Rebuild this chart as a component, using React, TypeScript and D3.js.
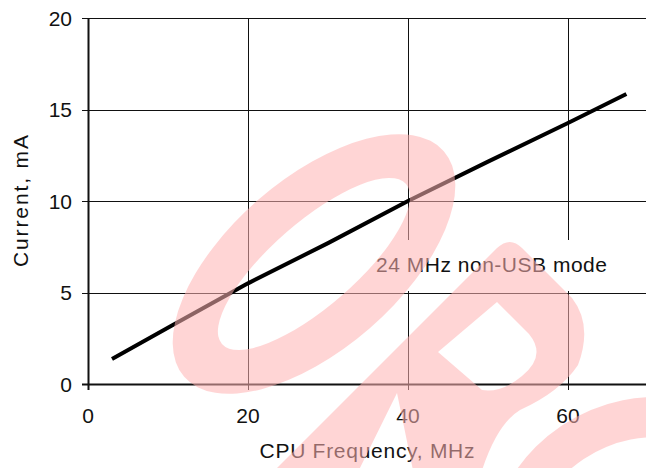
import React from "react";
import * as d3 from "d3";

const freqMHz = [3, 10.6, 20, 30, 40, 50, 60, 67.3];
const currentMA = [1.37, 3.22, 5.5, 7.7, 10.0, 12.15, 14.26, 15.85];
const xTicks = [0, 20, 40, 60];
const yTicks = [0, 5, 10, 15, 20];
const xTitle = "CPU Frequency, MHz";
const yTitle = "Current, mA";
const noteText = "24 MHz non-USB mode";

const W = 646;
const H = 468;
const FONT = "'Liberation Sans', Arial, sans-serif";

export default function App() {
  const x = d3.scaleLinear().domain([0, 70]).range([88, 648]);
  const y = d3.scaleLinear().domain([0, 20]).range([384, 18]);
  const pts: [number, number][] = freqMHz.map((f, i) => [f, currentMA[i]]);
  const line = d3
    .line<[number, number]>()
    .x((d) => x(d[0]))
    .y((d) => y(d[1]));

  const ellipsePath = (cx: number, cy: number, a: number, b: number) =>
    `M${cx - a},${cy} A${a},${b} 0 1 0 ${cx + a},${cy} A${a},${b} 0 1 0 ${cx - a},${cy} Z`;

  const snap = (v: number) => Math.round(v) + 0.5;

  return (
    <svg
      width={W}
      height={H}
      style={{ position: "absolute", left: 0, top: 0, background: "#fff" }}
      fontFamily={FONT}
    >
      <rect x={0} y={0} width={W} height={H} fill="#fff" />
      {/* horizontal grid */}
      {yTicks.map((t) => (
        <line
          key={"hy" + t}
          x1={82}
          x2={W}
          y1={snap(y(t))}
          y2={snap(y(t))}
          stroke="#111"
          strokeWidth={t === 0 ? 2 : 1}
        />
      ))}
      {/* vertical grid */}
      {xTicks.map((t) => (
        <line
          key={"vx" + t}
          x1={snap(x(t))}
          x2={snap(x(t))}
          y1={y(20)}
          y2={390}
          stroke="#111"
          strokeWidth={t === 0 ? 2 : 1}
        />
      ))}
      {/* y tick labels */}
      {yTicks.map((t) => (
        <text
          key={"ly" + t}
          x={72}
          y={y(t)}
          textAnchor="end"
          dominantBaseline="central"
          fontSize={21}
          fill="#111"
        >
          {t}
        </text>
      ))}
      {/* x tick labels */}
      {xTicks.map((t) => (
        <text
          key={"lx" + t}
          x={x(t)}
          y={423}
          textAnchor="middle"
          fontSize={21}
          fill="#111"
        >
          {t}
        </text>
      ))}
      {/* data line */}
      <path d={line(pts) || ""} fill="none" stroke="#000" strokeWidth={4} strokeLinejoin="round" />
      {/* note box */}
      <rect x={370} y={240} width={245} height={51} fill="#fff" />
      <text x={376} y={272} fontSize={21} fill="#111" textLength={231} lengthAdjust="spacing">
        {noteText}
      </text>
      {/* axis titles */}
      <text x={367} y={458} textAnchor="middle" fontSize={21} fill="#111" textLength={215} lengthAdjust="spacing">
        {xTitle}
      </text>
      <text
        transform="translate(28,201) rotate(-90)"
        textAnchor="middle"
        fontSize={21}
        fill="#111"
        textLength={132}
        lengthAdjust="spacing"
      >
        {yTitle}
      </text>
      {/* watermark */}
      <g opacity={0.55} fill="#ffb4b4">
        <g transform="rotate(-41 314 264)">
          <path
            fillRule="evenodd"
            d={ellipsePath(314, 264, 172, 85) + " " + ellipsePath(314, 264, 122, 42)}
          />
        </g>
        <path
          fillRule="evenodd"
          d={
            "M265,480 L497,248 Q510,236 522,248 L572,298 Q593,325 578,365 Q560,392 520,410 Q495,425 479,480 L415,480 L397,393 L354,480 Z " +
            "M438,352 L497,302 L529,334 Q547,356 522,376 Q502,393 482,390 Z"
          }
        />
        <path fillRule="evenodd" d={ellipsePath(656, 567, 170, 170) + " " + ellipsePath(656, 567, 130, 130)} />
      </g>
    </svg>
  );
}
